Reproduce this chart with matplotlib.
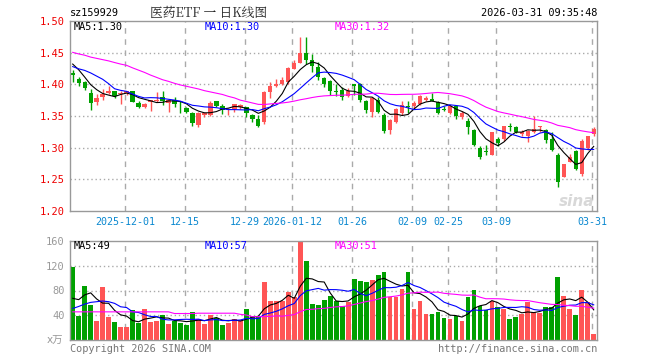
import matplotlib
matplotlib.use('Agg')
import matplotlib.pyplot as plt
import numpy as np
import pandas as pd

# daily candles, 2025-11-18 .. 2026-03-31 (88 sessions)
opens = [1.418, 1.409, 1.404, 1.387, 1.372, 1.380, 1.387, 1.389, 1.384, 1.387,
         1.389, 1.371, 1.365, 1.372, 1.373, 1.380, 1.370, 1.376, 1.371, 1.363,
         1.355, 1.336, 1.352, 1.352, 1.373, 1.366, 1.360, 1.361, 1.365, 1.364,
         1.352, 1.346, 1.340, 1.388, 1.398, 1.400, 1.403, 1.425, 1.434, 1.450,
         1.439, 1.428, 1.410, 1.405, 1.389, 1.391, 1.381, 1.400, 1.400, 1.374,
         1.357, 1.375, 1.352, 1.328, 1.341, 1.354, 1.366, 1.366, 1.369, 1.376,
         1.377, 1.372, 1.361, 1.355, 1.365, 1.349, 1.342, 1.328, 1.300, 1.294,
         1.289, 1.313, 1.313, 1.335, 1.332, 1.322, 1.318, 1.324, 1.332, 1.328,
         1.313, 1.289, 1.254, 1.277, 1.295, 1.259, 1.300, 1.321]
highs = [1.423, 1.411, 1.406, 1.393, 1.384, 1.392, 1.398, 1.389, 1.390, 1.390,
         1.390, 1.374, 1.371, 1.375, 1.388, 1.389, 1.377, 1.380, 1.373, 1.364,
         1.357, 1.356, 1.357, 1.374, 1.374, 1.369, 1.362, 1.369, 1.369, 1.365,
         1.353, 1.352, 1.390, 1.404, 1.409, 1.411, 1.427, 1.439, 1.475, 1.474,
         1.448, 1.435, 1.412, 1.407, 1.400, 1.396, 1.394, 1.400, 1.402, 1.376,
         1.380, 1.380, 1.354, 1.345, 1.362, 1.373, 1.373, 1.373, 1.383, 1.382,
         1.387, 1.374, 1.366, 1.368, 1.367, 1.358, 1.347, 1.329, 1.303, 1.305,
         1.325, 1.317, 1.335, 1.339, 1.335, 1.328, 1.328, 1.350, 1.335, 1.329,
         1.324, 1.291, 1.275, 1.290, 1.297, 1.314, 1.319, 1.332]
lows = [1.404, 1.398, 1.391, 1.359, 1.368, 1.375, 1.385, 1.378, 1.369, 1.383,
        1.372, 1.362, 1.362, 1.358, 1.372, 1.367, 1.357, 1.365, 1.355, 1.355,
        1.334, 1.333, 1.349, 1.350, 1.364, 1.353, 1.352, 1.357, 1.361, 1.348,
        1.340, 1.333, 1.337, 1.379, 1.396, 1.399, 1.401, 1.424, 1.433, 1.432,
        1.419, 1.407, 1.396, 1.383, 1.382, 1.375, 1.380, 1.383, 1.372, 1.355,
        1.348, 1.355, 1.323, 1.322, 1.339, 1.352, 1.355, 1.361, 1.367, 1.373,
        1.373, 1.353, 1.358, 1.353, 1.346, 1.345, 1.321, 1.303, 1.282, 1.289,
        1.288, 1.303, 1.311, 1.326, 1.323, 1.318, 1.309, 1.323, 1.325, 1.308,
        1.295, 1.238, 1.253, 1.277, 1.265, 1.255, 1.297, 1.319]
closes = [1.414, 1.402, 1.394, 1.370, 1.378, 1.384, 1.389, 1.382, 1.387, 1.389,
          1.372, 1.365, 1.369, 1.375, 1.375, 1.374, 1.376, 1.369, 1.370, 1.357,
          1.339, 1.354, 1.355, 1.371, 1.366, 1.359, 1.361, 1.369, 1.367, 1.354,
          1.346, 1.335, 1.388, 1.397, 1.401, 1.407, 1.425, 1.434, 1.450, 1.439,
          1.429, 1.411, 1.400, 1.390, 1.388, 1.380, 1.390, 1.397, 1.375, 1.359,
          1.378, 1.357, 1.326, 1.343, 1.361, 1.367, 1.365, 1.370, 1.381, 1.378,
          1.374, 1.355, 1.360, 1.366, 1.350, 1.355, 1.332, 1.304, 1.286, 1.293,
          1.324, 1.308, 1.334, 1.332, 1.324, 1.325, 1.326, 1.330, 1.334, 1.312,
          1.296, 1.246, 1.274, 1.286, 1.266, 1.310, 1.318, 1.330]
# volume, 10k lots
volumes = [118.4, 38.9, 86.6, 57.0, 30.7, 84.9, 37.8, 29.0, 20.8, 20.8,
           48.8, 27.9, 50.4, 29.0, 30.7, 40.5, 26.3, 30.7, 26.8, 24.1,
           45.5, 33.4, 26.3, 40.5, 36.1, 24.1, 27.9, 33.4, 31.8, 50.9,
           38.9, 37.2, 93.7, 62.5, 63.6, 63.6, 78.3, 69.0, 160.0, 127.7,
           58.6, 57.0, 65.2, 71.8, 62.5, 54.2, 61.9, 98.1, 94.8, 93.1,
           96.4, 104.7, 109.6, 70.1, 70.1, 82.2, 109.6, 49.3, 63.6, 42.7,
           42.7, 45.5, 36.1, 34.0, 38.9, 30.7, 70.1, 81.6, 55.3, 48.8,
           62.5, 53.7, 50.9, 34.5, 37.8, 42.7, 60.8, 45.5, 44.0, 53.7,
           53.7, 101.4, 71.8, 50.9, 40.5, 81.6, 60.8, 9.8]

# moving averages at the left edge (their windows start before the chart)
ma5_head = [1.432, 1.423, 1.4115, 1.3995]
ma10_head = [1.428, 1.4245, 1.422, 1.418, 1.413, 1.408, 1.401, 1.393, 1.3905]
ma30_head = [1.4505, 1.448, 1.446, 1.443, 1.441, 1.439, 1.437, 1.4344, 1.432, 1.430,
             1.426, 1.4224, 1.4188, 1.4146, 1.411, 1.4073, 1.4047, 1.4016, 1.399, 1.3969,
             1.3948, 1.3927, 1.390, 1.388, 1.386, 1.384, 1.381, 1.3786, 1.375]
vma5_head = [67.4, 65.2, 72.9, 76.2]
vma10_head = [50.9, 54.2, 58.0, 60.8, 61.9, 63.0, 61.9, 59.2, 53.7]
vma30_head = [45.5] * 17 + [42.8] * 4 + [43.3] * 7 + [41.5]

tick_index = [9, 19, 29, 37, 47, 57, 63, 71, 87]
tick_labels = ['2025-12-01', '12-15', '12-29', '2026-01-12', '01-26',
               '02-09', '02-25', '03-09', '03-31']
price_ticks = [1.20, 1.25, 1.30, 1.35, 1.40, 1.45, 1.50]
vol_ticks = [40, 80, 120, 160]


def moving_avg(values, n, head):
    out = pd.Series(values).rolling(n).mean().to_numpy()
    out[:n - 1] = head
    return out


o = np.array(opens); h = np.array(highs); l = np.array(lows); c = np.array(closes)
v = np.array(volumes)
x = np.arange(len(c))
up = c >= o
RED, GREEN = '#ff5555', '#00a000'
cols = np.where(up, RED, GREEN)
GRID = '#aaaaaa'
MONO = 'DejaVu Sans Mono'
LW = 0.8

fig = plt.figure(figsize=(6.6, 3.6), dpi=100)
W, H = 660, 360
ax = fig.add_axes([70 / W, 1 - 211 / H, 527 / W, 190 / H])
axv = fig.add_axes([70 / W, 1 - 340 / H, 527 / W, 99 / H])

# price panel
ax.vlines(x, l, h, colors=cols, lw=1)
body = np.maximum(np.abs(c - o), 0.0008)
ax.bar(x, body, bottom=np.minimum(o, c), width=0.72, color=cols, lw=0)
ax.plot(x, moving_avg(c, 5, ma5_head), color='black', lw=LW)
ax.plot(x, moving_avg(c, 10, ma10_head), color='#0000ff', lw=LW)
ax.plot(x, moving_avg(c, 30, ma30_head), color='#ff00ff', lw=LW)
ax.set_ylim(1.20, 1.50)

# volume panel
axv.bar(x, v, width=0.8, color=cols, lw=0)
axv.plot(x, moving_avg(v, 5, vma5_head), color='black', lw=LW)
axv.plot(x, moving_avg(v, 10, vma10_head), color='#0000ff', lw=LW)
axv.plot(x, moving_avg(v, 30, vma30_head), color='#ff00ff', lw=LW)
axv.set_ylim(0, 160)

for a in (ax, axv):
    a.set_xlim(-0.45, 87.55)
    for s in a.spines.values():
        s.set_color('#999999')
        s.set_linewidth(1)
    for i in tick_index:
        a.axvline(i - 0.3, color=GRID, lw=1, ls=(0, (4, 4)), zorder=0)
    a.tick_params(length=0)

for p in price_ticks[1:-1]:
    ax.axhline(p, color=GRID, lw=1, ls=(0, (1, 2)), zorder=0)
for t in vol_ticks[:-1]:
    axv.axhline(t, color=GRID, lw=1, ls=(0, (1, 2)), zorder=0)

ax.set_yticks(price_ticks)
ax.set_yticklabels(['%.2f' % p for p in price_ticks], color='#ee0000',
                   family=MONO, fontsize=7.5)
ax.set_xticks([i - 0.3 for i in tick_index])
ax.set_xticklabels(tick_labels, color='#0a88d0', family=MONO, fontsize=7.2)
ax.tick_params(axis='y', pad=4)
ax.tick_params(axis='x', pad=4)

axv.set_yticks(vol_ticks)
axv.set_yticklabels([str(t) for t in vol_ticks], color='#999999',
                    family=MONO, fontsize=7.5)
axv.tick_params(axis='y', pad=4)
axv.set_xticks([])

# header
fig.text(70 / W, 1 - 13 / H, 'sz159929', family=MONO, fontsize=7.4, va='center')
fig.text(209 / W, 1 - 13 / H, '医药ETF 一 日K线图', family=['Noto Serif CJK SC', 'Noto Sans CJK SC', 'DejaVu Sans'],
         fontsize=9.2, ha='center', va='center', color='#222222')
fig.text(597 / W, 1 - 13 / H, '2026-03-31 09:35:48', family=MONO, fontsize=7.4,
         ha='right', va='center')

# MA legends
for axis, y, labels in ((ax, 27, ('MA5:1.30', 'MA10:1.30', 'MA30:1.32')),
                        (axv, 246, ('MA5:49', 'MA10:57', 'MA30:51'))):
    for xp, txt, col in zip((74, 205, 335), labels, ('black', '#0000ff', '#ff00ff')):
        fig.text(xp / W, 1 - y / H, txt, family=MONO, fontsize=7.4, color=col, va='center')

fig.text(63 / W, 1 - 341 / H, 'x万', family=['DejaVu Sans', 'Noto Sans CJK SC'],
         fontsize=7.5, color='#999999', ha='right', va='center')
fig.text(70 / W, 1 - 349 / H, 'Copyright 2026 SINA.COM', family=MONO, fontsize=7.4,
         color='#777777', va='center')
fig.text(597 / W, 1 - 349 / H, 'http://finance.sina.com.cn', family=MONO, fontsize=7.4,
         color='#777777', ha='right', va='center')
fig.text(594 / W, 1 - 202 / H, 'sina', fontsize=11, color='#d8d8d8', style='italic',
         weight='bold', ha='right', va='center')

fig.savefig('out.png', dpi=100)
